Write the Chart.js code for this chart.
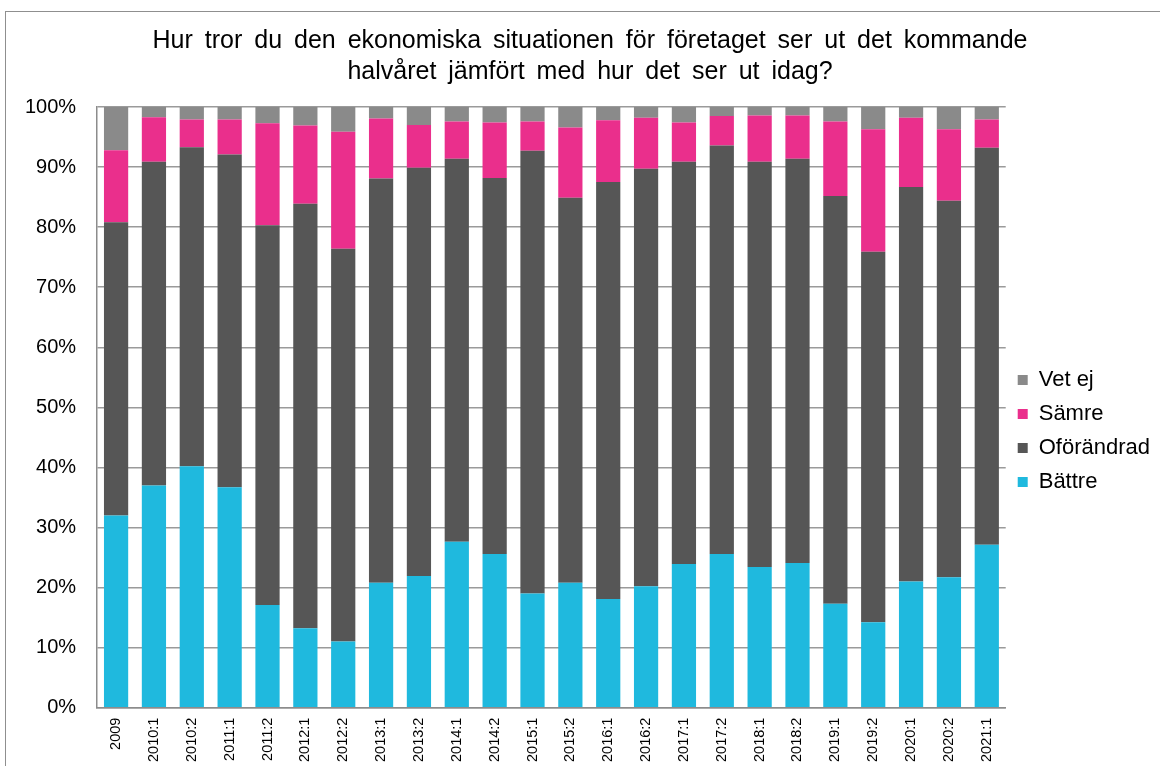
<!DOCTYPE html>
<html>
<head>
<meta charset="utf-8">
<script src="https://cdn.jsdelivr.net/npm/chart.js@4"></script>
<style>
  html, body { margin: 0; padding: 0; background: #fff; overflow: hidden; }
  #wrap { position: relative; width: 1160px; height: 790px; }
  #frame { position: absolute; left: 5px; top: 11px; right: 0; bottom: 0;
           border-top: 1px solid #8f8f8f; border-left: 1px solid #8f8f8f; pointer-events: none; }
</style>
</head>
<body>
<div id="wrap">
  <canvas id="chart" width="1160" height="790" style="width:1160px;height:790px"></canvas>
  <div id="frame"></div>
</div>
<script>
const periods = ['2009', '2010:1', '2010:2', '2011:1', '2011:2', '2012:1', '2012:2', '2013:1',
  '2013:2', '2014:1', '2014:2', '2015:1', '2015:2', '2016:1', '2016:2', '2017:1', '2017:2',
  '2018:1', '2018:2', '2019:1', '2019:2', '2020:1', '2020:2', '2021:1'];

// andel i procent per period
const battre     = [32.0, 37.0, 40.2, 36.7, 17.1, 13.2, 11.0, 20.8, 21.9, 27.6, 25.6, 19.0,
                    20.8, 18.1, 20.2, 23.9, 25.6, 23.4, 24.1, 17.3, 14.2, 21.0, 21.7, 27.1];
const oforandrad = [48.8, 53.9, 53.1, 55.4, 63.2, 70.7, 65.4, 67.3, 68.0, 63.8, 62.6, 73.7,
                    64.1, 69.4, 69.5, 67.0, 68.0, 67.5, 67.3, 67.9, 61.7, 65.7, 62.7, 66.1];
const samre      = [12.0,  7.4,  4.6,  5.8, 17.0, 13.0, 19.5, 10.0,  7.1,  6.2,  9.2,  4.9,
                    11.7, 10.3,  8.5,  6.5,  4.9,  7.7,  7.2, 12.4, 20.4, 11.5, 11.9,  4.7];
const vetEj      = [ 7.2,  1.7,  2.1,  2.1,  2.7,  3.1,  4.1,  1.9,  3.0,  2.4,  2.6,  2.4,
                     3.4,  2.2,  1.8,  2.6,  1.5,  1.4,  1.4,  2.4,  3.7,  1.8,  3.7,  2.1];

const titleLines = ['Hur tror du den ekonomiska situationen för företaget ser ut det kommande',
  'halvåret jämfört med hur det ser ut idag?'];

const font = 'Arial, "Liberation Sans", Helvetica, sans-serif';

function ds(label, data, color) {
  return { label, data, backgroundColor: color, borderWidth: 0,
           barPercentage: 0.64, categoryPercentage: 1.0 };
}

const chart = new Chart(document.getElementById('chart'), {
  type: 'bar',
  data: {
    labels: periods,
    datasets: [
      ds('Bättre', battre, '#1fb9de'),
      ds('Oförändrad', oforandrad, '#565656'),
      ds('Sämre', samre, '#ea2f8c'),
      ds('Vet ej', vetEj, '#8a8a8a')
    ]
  },
  options: {
    responsive: false,
    animation: false,
    layout: { padding: { left: 4, right: 0, top: 26, bottom: 18 } },
    plugins: {
      title: {
        display: true,
        text: titleLines,
        color: '#000',
        font: { family: font, size: 25, weight: 'normal', lineHeight: 1.24 },
        padding: { top: 0, bottom: 19 }
      },
      legend: {
        position: 'right',
        reverse: true,
        title: { display: true, text: ' ', padding: { top: 36, bottom: 4 }, font: { size: 20 } },
        labels: {
          color: '#000',
          boxWidth: 10, boxHeight: 10,
          padding: 12,
          font: { family: font, size: 22 }
        }
      },
      tooltip: { enabled: false }
    },
    scales: {
      x: {
        stacked: true,
        grid: { display: false, drawTicks: false },
        border: { color: '#8c8c8c', width: 1.5 },
        ticks: {
          color: '#000', minRotation: 90, maxRotation: 90, padding: 10,
          font: { family: font, size: 14.5 }
        }
      },
      y: {
        stacked: true,
        min: 0, max: 100,
        grid: { color: '#9a9a9a', lineWidth: 1.5, drawTicks: false },
        border: { color: '#8c8c8c', width: 1.5 },
        ticks: {
          stepSize: 10, color: '#000', padding: 21,
          font: { family: font, size: 20 },
          callback: v => v + '%'
        }
      }
    }
  }
});

// titeln i originalet har bredare ordmellanrum och sitter lite till höger
const titleBlock = chart.titleBlock;
const drawTitle = titleBlock.draw.bind(titleBlock);
titleBlock.draw = () => {
  chart.ctx.save();
  chart.ctx.wordSpacing = '5px';
  chart.ctx.translate(8, 0);
  drawTitle();
  chart.ctx.restore();
};
chart.update();
</script>
</body>
</html>
